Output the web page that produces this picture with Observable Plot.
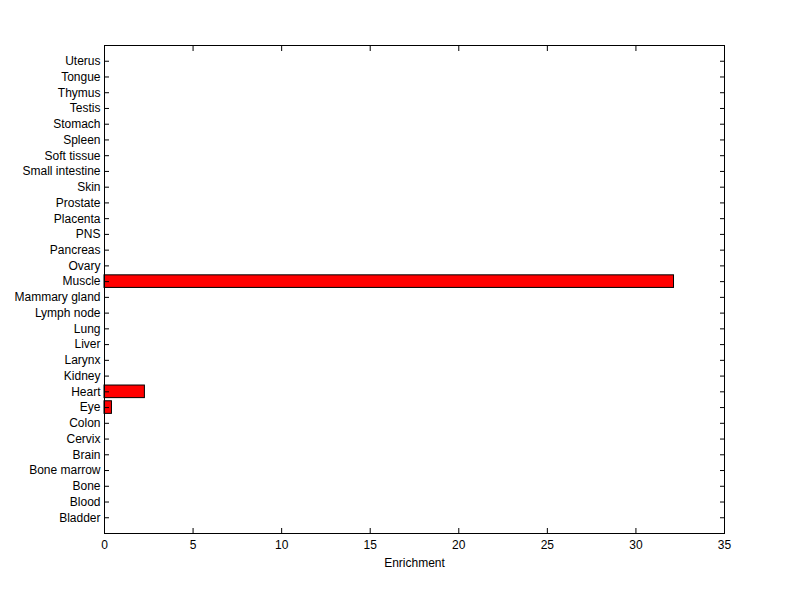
<!DOCTYPE html>
<html>
<head>
<meta charset="utf-8">
<script src="https://cdn.jsdelivr.net/npm/d3@7"></script>
<script src="https://cdn.jsdelivr.net/npm/@observablehq/plot@0.6"></script>
<style>
body { margin: 0; background: #fff; }
</style>
</head>
<body>
<div id="chart"></div>
<script>
const tissues = ["Bladder","Blood","Bone","Bone marrow","Brain","Cervix","Colon","Eye","Heart","Kidney","Larynx","Liver","Lung","Lymph node","Mammary gland","Muscle","Ovary","Pancreas","PNS","Placenta","Prostate","Skin","Small intestine","Soft tissue","Spleen","Stomach","Testis","Thymus","Tongue","Uterus"];
const enrichment = [0,0,0,0,0,0,0,0.42,2.28,0,0,0,0,0,0,32.15,0,0,0,0,0,0,0,0,0,0,0,0,0,0];
const xTicks = [0,5,10,15,20,25,30,35];

const data = tissues.map((t, i) => ({tissue: t, value: enrichment[i]}));
const bars = data.filter(d => d.value > 0);

const chart = Plot.plot({
  width: 800,
  height: 599,
  marginLeft: 104,
  marginRight: 76,
  marginTop: 45,
  marginBottom: 66,
  style: {fontFamily: "Arial, 'Liberation Sans', sans-serif", fontSize: "12px", color: "#000", background: "#fff"},
  x: {domain: [0, 35], ticks: xTicks},
  y: {domain: tissues.slice().reverse(), paddingInner: 0.2, paddingOuter: 0.6, round: false},
  marks: [
    Plot.barX(bars, {x: "value", y: "tissue", fill: "#ff0000", stroke: "#000", strokeWidth: 1}),
    Plot.axisX({anchor: "bottom", ticks: xTicks, tickSize: -5, tickPadding: 12, label: "Enrichment", labelAnchor: "center", labelArrow: "none", labelOffset: 33, fontSize: 12}),
    Plot.axisX({anchor: "top", ticks: xTicks, tickSize: -5, tickFormat: () => "", label: null}),
    Plot.axisY({anchor: "left", tickSize: -5, tickPadding: 9, label: null, fontSize: 12}),
    Plot.axisY({anchor: "right", tickSize: -5, tickFormat: () => "", label: null}),
    Plot.frame({stroke: "#000", strokeWidth: 1})
  ]
});
document.getElementById("chart").appendChild(chart);
</script>
</body>
</html>
